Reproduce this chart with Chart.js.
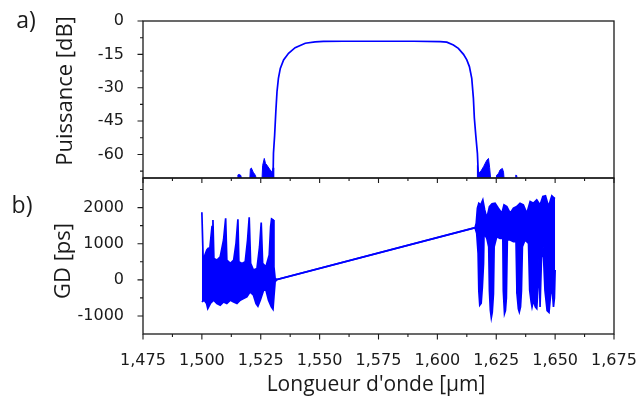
<!DOCTYPE html>
<html>
<head>
<meta charset="utf-8">
<script src="https://cdn.jsdelivr.net/npm/chart.js@4.4.1/dist/chart.umd.min.js"></script>
<style>
  html, body { margin: 0; padding: 0; background: #fff; }
  #wrap { position: relative; width: 639px; height: 401px; overflow: hidden; }
  #wrap canvas { position: absolute; left: 0; }
  #power { top: 0; }
  #gd { top: 176px; }
</style>
</head>
<body>
<div id="wrap">
  <canvas id="power" width="639" height="180"></canvas>
  <canvas id="gd" width="639" height="225"></canvas>
</div>
<script>
// Axis ticks (major get a label, minor are only marks)
const WL_TICKS = [1.475, 1.500, 1.525, 1.550, 1.575, 1.600, 1.625, 1.650, 1.675]
const WL_LABELS = ['1,475', '1,500', '1,525', '1,550', '1,575', '1,600', '1,625', '1,650', '1,675']
const WL_MINOR = [1.4875, 1.5125, 1.5375, 1.5625, 1.5875, 1.6125, 1.6375, 1.6625]
const POWER_TICKS = [-60, -45, -30, -15, 0]
const POWER_MINOR = [-67.5, -52.5, -37.5, -22.5, -7.5]
const GD_TICKS = [-1000, 0, 1000, 2000]
const GD_MINOR = [-500, 500, 1500, 2500]

// a) transmitted power, main curve
const powerWl = [1.5302, 1.5304, 1.5309, 1.5314, 1.5319, 1.5325, 1.5333, 1.5347, 1.5368, 1.5396,
  1.5439, 1.5481, 1.5516, 1.5600, 1.5750, 1.5900, 1.6012, 1.6040, 1.6068, 1.6089, 1.6111,
  1.6125, 1.6136, 1.6146, 1.6153, 1.6157, 1.6163, 1.6170, 1.6175]
const powerDb = [-72, -59.5, -51.3, -40.8, -31.8, -25.8, -21.3, -17.5, -14.5, -12.0,
  -10.0, -9.4, -9.2, -9.1, -9.1, -9.1, -9.3, -9.5, -10.8, -12.3, -15.0,
  -17.5, -20.5, -25.8, -34.8, -43.6, -51.3, -59.5, -72]

// a) side lobes at the floor of the scale
const lobeWl = [1.5150, 1.5153, 1.5159, 1.5166, 1.5168,
  1.5203, 1.5206, 1.5210, 1.5218, 1.5228, 1.5232,
  1.5255, 1.5258, 1.5265, 1.5270, 1.5276, 1.5290, 1.5297, 1.5303, 1.5305,
  1.6169, 1.6170, 1.6174, 1.6185, 1.6196, 1.6210, 1.6217, 1.6222, 1.6227,
  1.6248, 1.6252, 1.6260, 1.6266, 1.6276, 1.6281, 1.6284,
  1.6331, 1.6333, 1.6337, 1.6339]
const lobeDb = [-72, -69.2, -69.0, -69.5, -72,
  -72, -66.5, -66.1, -68.0, -69.5, -72,
  -72, -65.0, -61.8, -64.0, -64.8, -67.0, -68.0, -66.0, -72,
  -72, -65.0, -68.5, -67.5, -65.5, -62.6, -61.8, -66.0, -72,
  -72, -69.3, -68.5, -67.0, -66.3, -68.0, -72,
  -72, -69.3, -69.5, -72]

// b) group delay, upper envelope
const gdUpperWl = [1.5000, 1.5006, 1.5013, 1.5021, 1.5027, 1.5033, 1.5038, 1.5043, 1.5047, 1.5051,
  1.5064, 1.5078, 1.5092, 1.5101, 1.5106, 1.5121, 1.5135, 1.5145, 1.5153, 1.5157,
  1.5170, 1.5184, 1.5194, 1.5201, 1.5207, 1.5219, 1.5234, 1.5245, 1.5252, 1.5258,
  1.5272, 1.5286, 1.5292, 1.5296, 1.5303, 1.5306, 1.5311, 1.5319,
  1.6160, 1.6165, 1.6170, 1.6176, 1.6184, 1.6193, 1.6201, 1.6210, 1.6221, 1.6232,
  1.6245, 1.6259, 1.6274, 1.6283, 1.6295, 1.6309, 1.6323, 1.6337, 1.6351, 1.6365,
  1.6380, 1.6394, 1.6408, 1.6422, 1.6436, 1.6448, 1.6459, 1.6472, 1.6486, 1.6496, 1.6500]
const gdUpper = [1872, 455, 686, 825, 872, 825, 1150, 1472, 1658, 594,
  547, 640, 1103, 1705, 547, 455, 547, 1010, 1677, 500,
  455, 500, 1103, 1733, 455, 269, 316, 917, 1584, 455,
  362, 686, 1472, 1686, 1658, 362, 39, 10,
  1444, 1566, 1983, 2122, 2075, 2214, 1936, 1705, 2028, 2103,
  2122, 1983, 1844, 2075, 2028, 1844, 1983, 2028, 2122, 2075,
  1844, 2167, 2122, 2214, 2075, 2306, 2325, 2028, 2325, 2260, 2260]

// b) group delay, lower envelope
const gdLowerWl = [1.5000, 1.5010, 1.5020, 1.5025, 1.5036, 1.5050, 1.5064, 1.5078, 1.5092, 1.5106,
  1.5121, 1.5135, 1.5149, 1.5163, 1.5177, 1.5191, 1.5205, 1.5219, 1.5230, 1.5238,
  1.5248, 1.5262, 1.5272, 1.5283, 1.5295, 1.5302, 1.5306, 1.5311, 1.5319,
  1.6160, 1.6167, 1.6173, 1.6176, 1.6180, 1.6186, 1.6191, 1.6196, 1.6198,
  1.6210, 1.6218, 1.6221, 1.6225, 1.6229, 1.6233, 1.6238, 1.6241,
  1.6252, 1.6266, 1.6278, 1.6280, 1.6285, 1.6289, 1.6293, 1.6297,
  1.6309, 1.6323, 1.6334, 1.6338, 1.6344, 1.6348, 1.6353, 1.6357, 1.6361,
  1.6372, 1.6387, 1.6392, 1.6398, 1.6402, 1.6408, 1.6416, 1.6422, 1.6429, 1.6432,
  1.6436, 1.6442, 1.6449, 1.6457, 1.6466, 1.6474, 1.6481, 1.6487, 1.6493, 1.6497, 1.6500]
const gdLower = [-611, -564, -656, -795, -656, -564, -656, -703, -611, -656,
  -564, -611, -656, -564, -517, -470, -333, -425, -656, -731,
  -564, -286, -286, -564, -750, -814, -470, -55, 10,
  1444, 1289, 733, -300, -703, -650, -200, 455, 1289,
  1150, 917, -300, -842, -1045, -900, -400, 917,
  1195, 1150, 1150, -300, -934, -850, -500, 1103,
  1103, 1056, 1056, -378, -800, -889, -750, -300, 917,
  1103, 1010, -286, -600, -750, -564, -750, -795, -8, 700,
  -750, 600, 900, -300, -850, -900, -400, -200, -750, -500, 270]

const BLUE = '#0000ff'
const INK = '#1a1a1a'

Chart.defaults.font.family = "'DejaVu Sans', sans-serif"
Chart.defaults.font.size = 16
Chart.defaults.color = INK

const toPoints = (xs, ys) => xs.map((x, i) => ({ x: x, y: ys[i] }))

/**
 * Draws the box around the plot area, the tick marks and the free texts.
 */
const framePlugin = {
  id: 'frame',
  afterDraw(chart, args, opts) {
    const { ctx, chartArea: a, scales } = chart
    ctx.save()
    ctx.strokeStyle = INK
    ctx.lineWidth = 1.3
    ctx.strokeRect(a.left, a.top, a.right - a.left, a.bottom - a.top)

    ctx.lineWidth = 1.1
    ctx.beginPath()
    opts.marks.forEach((m) => {
      const scale = scales[m.axis]
      m.values.forEach((v) => {
        const p = scale.getPixelForValue(v)
        if (m.edge === 'left') {
          ctx.moveTo(a.left, p)
          ctx.lineTo(a.left - m.len, p)
        } else if (m.edge === 'top') {
          ctx.moveTo(p, a.top)
          ctx.lineTo(p, a.top + m.len)
        } else {
          ctx.moveTo(p, a.bottom)
          ctx.lineTo(p, a.bottom + m.len)
        }
      })
    })
    ctx.stroke()

    ctx.fillStyle = INK
    ctx.textAlign = 'center'
    ctx.textBaseline = 'middle'
    opts.texts.forEach((t) => {
      ctx.save()
      ctx.font = t.font
      ctx.translate(t.x, t.y)
      if (t.rotate) ctx.rotate(-Math.PI / 2)
      ctx.fillText(t.text, 0, 0)
      ctx.restore()
    })
    ctx.restore()
  },
}

const TITLE_FONT = "22px 'Open Sans', Lato, sans-serif"
const XTITLE_FONT = "21px 'Open Sans', Lato, sans-serif"
const PANEL_FONT = "23px 'Open Sans', Lato, sans-serif"

// no extra room for half-labels at the ends of the axes
const noEndPadding = (scale) => {
  scale.paddingTop = 0
  scale.paddingBottom = 0
  scale.paddingLeft = 0
  scale.paddingRight = 0
}

const wlScale = (showLabels) => ({
  type: 'linear',
  min: 1.475,
  max: 1.675,
  afterBuildTicks: (scale) => { scale.ticks = WL_TICKS.map((v) => ({ value: v })) },
  afterFit: (scale) => {
    scale.height = showLabels ? 67 : 0
    noEndPadding(scale)
  },
  grid: { display: false },
  border: { display: false },
  ticks: {
    display: showLabels,
    autoSkip: false,
    maxRotation: 0,
    padding: 9,
    callback: (value, index) => WL_LABELS[index],
  },
})

const valueScale = (min, max, ticks) => ({
  type: 'linear',
  min: min,
  max: max,
  afterBuildTicks: (scale) => { scale.ticks = ticks.map((v) => ({ value: v })) },
  afterFit: (scale) => {
    scale.width = 143
    noEndPadding(scale)
  },
  grid: { display: false },
  border: { display: false },
  ticks: { padding: 11, callback: (value) => String(value) },
})

// a) power spectrum
new Chart(document.getElementById('power'), {
  type: 'line',
  data: {
    datasets: [
      {
        data: toPoints(powerWl, powerDb),
        borderColor: BLUE,
        borderWidth: 1.7,
        pointRadius: 0,
        fill: false,
      },
      {
        data: toPoints(lobeWl, lobeDb),
        borderColor: BLUE,
        backgroundColor: BLUE,
        borderWidth: 1,
        pointRadius: 0,
        fill: 'start',
      },
    ],
  },
  options: {
    responsive: false,
    animation: false,
    layout: { padding: { left: 0, right: 25, top: 21, bottom: 2 } },
    plugins: {
      legend: { display: false },
      tooltip: { enabled: false },
      frame: {
        marks: [
          { axis: 'y', edge: 'left', values: POWER_TICKS, len: 5.5 },
          { axis: 'y', edge: 'left', values: POWER_MINOR, len: 3 },
        ],
        texts: [
          { text: 'a)', x: 26, y: 21, font: PANEL_FONT },
          { text: 'Puissance [dB]', x: 66, y: 91, font: TITLE_FONT, rotate: true },
        ],
      },
    },
    scales: {
      x: wlScale(false),
      y: valueScale(-70.6, 0, POWER_TICKS),
    },
  },
  plugins: [framePlugin],
})

// b) group delay
new Chart(document.getElementById('gd'), {
  type: 'line',
  data: {
    datasets: [
      {
        data: toPoints(gdUpperWl, gdUpper),
        borderColor: BLUE,
        backgroundColor: BLUE,
        borderWidth: 1.7,
        pointRadius: 0,
        fill: '+1',
      },
      {
        data: toPoints(gdLowerWl, gdLower),
        borderColor: BLUE,
        borderWidth: 1.7,
        pointRadius: 0,
        fill: false,
      },
    ],
  },
  options: {
    responsive: false,
    animation: false,
    layout: { padding: { left: 0, right: 25, top: 2, bottom: 0 } },
    plugins: {
      legend: { display: false },
      tooltip: { enabled: false },
      frame: {
        marks: [
          { axis: 'y', edge: 'left', values: GD_TICKS, len: 5.5 },
          { axis: 'y', edge: 'left', values: GD_MINOR, len: 3 },
          { axis: 'x', edge: 'top', values: WL_TICKS, len: 5 },
          { axis: 'x', edge: 'top', values: WL_MINOR, len: 3 },
          { axis: 'x', edge: 'bottom', values: WL_TICKS, len: 5.5 },
          { axis: 'x', edge: 'bottom', values: WL_MINOR, len: 3 },
        ],
        texts: [
          { text: 'b)', x: 22, y: 30, font: PANEL_FONT },
          { text: 'GD [ps]', x: 64, y: 85, font: TITLE_FONT, rotate: true },
          { text: "Longueur d'onde [μm]", x: 376, y: 209, font: XTITLE_FONT },
        ],
      },
    },
    scales: {
      x: wlScale(true),
      y: valueScale(-1500, 2820, GD_TICKS),
    },
  },
  plugins: [framePlugin],
})
</script>
</body>
</html>
